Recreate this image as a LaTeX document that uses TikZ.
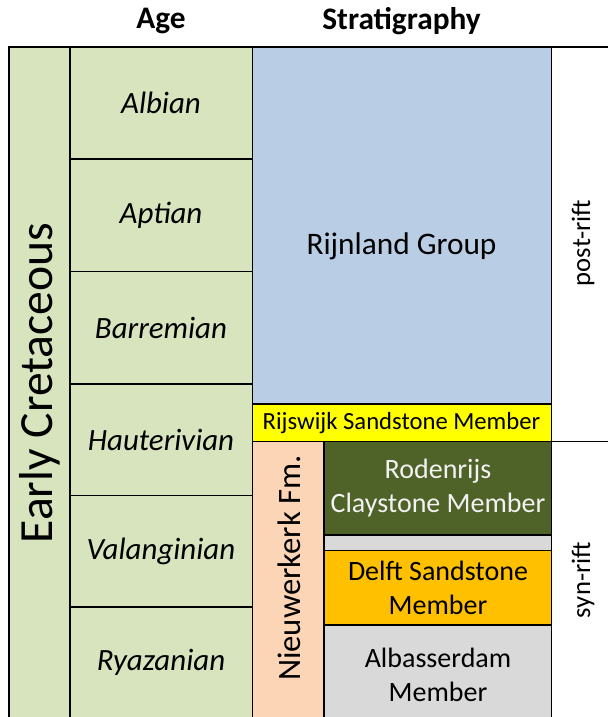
\documentclass[tikz,border=0pt]{standalone}
\usepackage{fontspec}
\setmainfont{Carlito}
\definecolor{agegreen}{HTML}{D7E4BD}
\definecolor{rijnblue}{HTML}{B9CDE5}
\definecolor{rijsyellow}{HTML}{FFFF00}
\definecolor{nieuwpeach}{HTML}{FBD5B5}
\definecolor{rodgreen}{HTML}{4F6228}
\definecolor{albgrey}{HTML}{D9D9D9}
\definecolor{delftorange}{HTML}{FFC000}
\newcommand{\fsz}[1]{\fontsize{#1}{#1}\selectfont}
\tikzset{
  frame/.style={line width=1.4pt, draw=black},
  title/.style={font=\fsz{23.5}\bfseries, inner sep=0pt},
  agelabel/.style={font=\fsz{23.2}\itshape, inner sep=0pt},
  unitlabel/.style={font=\fsz{21}, align=center, inner sep=0pt},
  riftlabel/.style={font=\fsz{20}, rotate=90, inner sep=0pt},
}
\begin{document}
\begin{tikzpicture}[x=0.75pt,y=-0.75pt]
\useasboundingbox (0,0) rectangle (608,717);
% fills
\fill[agegreen] (8.7,47) rectangle (252.5,717);
\fill[rijnblue] (252.5,47) rectangle (551.5,404);
\fill[rijsyellow] (252.5,404) rectangle (551.5,441.5);
\fill[nieuwpeach] (252.5,441.5) rectangle (324,717);
\fill[rodgreen] (324,441.5) rectangle (551.5,535);
\fill[albgrey] (324,535) rectangle (551.5,550.5);
\fill[delftorange] (324,550.5) rectangle (551.5,625);
\fill[albgrey] (324,625) rectangle (551.5,717);
% frame lines
\draw[frame] (8.7,717) -- (8.7,47) -- (608,47);
\draw[frame] (70,47) -- (70,717);
\draw[frame] (252.5,47) -- (252.5,717);
\draw[frame] (551.5,47) -- (551.5,717);
\draw[frame] (324,441.5) -- (324,717);
\foreach \yy in {159,271.5,384,495.5,607}
  \draw[frame] (70,\yy) -- (252.5,\yy);
\draw[frame] (252.5,404) -- (551.5,404);
\draw[frame] (252.5,441.5) -- (608,441.5);
\draw[frame] (324,535) -- (551.5,535);
\draw[frame] (324,550.5) -- (551.5,550.5);
\draw[frame] (324,625) -- (551.5,625);
% titles
\node[title] (tage) at (161,21) {Age};
\node[title] (tstrat) at (401.5,21) {Stratigraphy};
% era
\node[font=\fsz{35.7}, rotate=90, inner sep=0pt] (era) at (40,383) {Early Cretaceous};
% ages
\node[agelabel] (albian) at (161,103) {Albian};
\node[agelabel] (aptian) at (161,215) {Aptian};
\node[agelabel] (barremian) at (161,328) {Barremian};
\node[agelabel] (hauterivian) at (161,440) {Hauterivian};
\node[agelabel] (valanginian) at (161,551) {Valanginian};
\node[agelabel] (ryazanian) at (161,662) {Ryazanian};
% strat units
\node[font=\fsz{23.5}, inner sep=0pt] (rijnland) at (401.5,246) {Rijnland Group};
\node[font=\fsz{18.5}, inner sep=0pt] (rijswijk) at (401.5,423) {Rijswijk Sandstone Member};
\node[font=\fsz{24.5}, rotate=90, inner sep=0pt] (nieuw) at (289,568) {Nieuwerkerk Fm.};
\node[unitlabel, text=white!95!black] (rodenrijs) at (438,488) {Rodenrijs\\[5pt]Claystone Member};
\node[unitlabel] (delft) at (438,588) {Delft Sandstone\\[4pt]Member};
\node[unitlabel] (albass) at (438,675) {Albasserdam\\[4pt]Member};
% rift phases
\node[riftlabel] (post) at (583,243) {post-rift};
\node[riftlabel] (syn) at (583,580) {syn-rift};
\end{tikzpicture}
\end{document}
